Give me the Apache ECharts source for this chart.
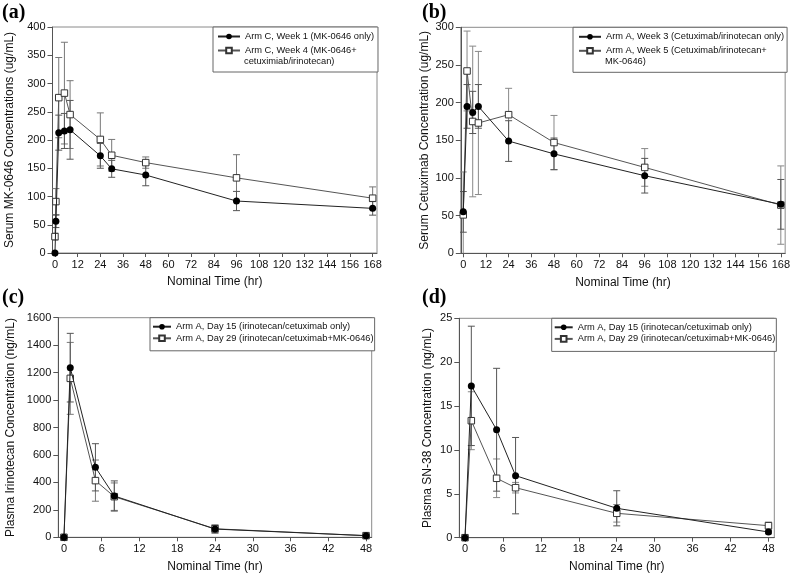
<!DOCTYPE html>
<html><head><meta charset="utf-8">
<script src="https://cdn.jsdelivr.net/npm/echarts@6/dist/echarts.min.js"></script>
<style>html,body{margin:0;padding:0;background:#fff}#c{width:793px;height:575px}</style>
</head><body><div id="c"></div>
<script>
// ---------- DATA ----------
// Panel (a): Serum MK-0646, Arm C
const timeA = [0, 0.5, 2, 5, 8, 24, 30, 48, 96, 168];
const armCWeek1 = [0, 56, 213, 216, 218, 172, 149, 138, 92, 79];
const armCWeek1SD = [0, 11, 31, 31, 52, 22, 15, 19, 17, 12];
const armCWeek4 = [29, 91, 275, 283, 245, 201, 173, 160, 133, 97];
const armCWeek4SD = [6, 23, 71, 90, 60, 47, 28, 10, 41, 20];
// Panel (b): Serum Cetuximab, Arm A
const timeB = [0, 2, 5, 8, 24, 48, 96, 168];
const armAWeek3 = [55, 195, 187, 195, 149, 132, 103, 65];
const armAWeek3SD = [27, 29, 28, 29, 27, 21, 23, 33];
const armAWeek5 = [51, 242, 175, 173, 184, 147, 114, 64];
const armAWeek5SD = [57, 53, 100, 95, 35, 36, 25, 52];
// Panel (c): Plasma Irinotecan, Arm A
const timeC = [0, 1, 5, 8, 24, 48];
const irinoDay15 = [0, 1236, 510, 301, 60, 12];
const irinoDay15SD = [0, 250, 172, 110, 30, 5];
const irinoDay29 = [0, 1158, 413, 296, 62, 12];
const irinoDay29SD = [0, 262, 150, 100, 25, 5];
// Panel (d): Plasma SN-38, Arm A
const timeD = [0, 1, 5, 8, 24, 48];
const sn38Day15 = [0, 17.3, 12.3, 7.07, 3.35, 0.65];
const sn38Day15SD = [0, 6.8, 7.0, 4.35, 2.0, 0.2];
const sn38Day29 = [0, 13.33, 6.77, 5.7, 2.78, 1.37];
const sn38Day29SD = [0, 3.3, 2.2, 0.6, 1.0, 0.4];
// Tick labels
const xTicksAB = [0, 12, 24, 36, 48, 60, 72, 84, 96, 108, 120, 132, 144, 156, 168];
const xTicksCD = [0, 6, 12, 18, 24, 30, 36, 42, 48];
// Names
const nameA1 = 'Arm C, Week 1 (MK-0646 only)';
const nameA2 = 'Arm C, Week 4 (MK-0646+';
const contA2 = 'cetuximiab/irinotecan)';
const nameB1 = 'Arm A, Week 3 (Cetuximab/irinotecan only)';
const nameB2 = 'Arm A, Week 5 (Cetuximab/irinotecan+';
const contB2 = 'MK-0646)';
const nameC1 = 'Arm A, Day 15 (irinotecan/cetuximab only)';
const nameC2 = 'Arm A, Day 29 (irinotecan/cetuximab+MK-0646)';
const yNames = ['Serum MK-0646 Concentrations (ug/mL)', 'Serum Cetuximab Concentration (ug/mL)',
  'Plasma Irinotecan Concentration (ng/mL)', 'Plasma SN-38 Concentration (ng/mL)'];
const xName = 'Nominal Time (hr)';
const panelLabels = ['(a)', '(b)', '(c)', '(d)'];

// ---------- CHART ----------
const FF = '"Liberation Sans", Arial, sans-serif';
const axisColor = '#555';
const grids = [
  {left: 52.5, top: 27, width: 324.5, height: 226},
  {left: 460.8, top: 27.3, width: 324.5, height: 226},
  {left: 58.3, top: 317.7, width: 313.4, height: 219.6},
  {left: 459.3, top: 318.3, width: 315, height: 219.4}
].map(g => Object.assign(g, {show: true, borderColor: '#8a8a8a', borderWidth: 1, backgroundColor: 'transparent'}));

function mkX(gi, min, max, ticks) {
  return {type: 'value', gridIndex: gi, min, max, name: xName, nameLocation: 'middle', nameGap: 23,
    nameTextStyle: {fontSize: 12, fontFamily: FF, color: '#111'},
    axisLine: {onZero: false, lineStyle: {color: axisColor}},
    axisTick: {show: true, length: 4, customValues: ticks, lineStyle: {color: axisColor}},
    axisLabel: {customValues: ticks, fontSize: 11, fontFamily: FF, color: '#111', margin: 6},
    splitLine: {show: false}};
}
function mkY(gi, max, interval, name, gap) {
  return {type: 'value', gridIndex: gi, min: 0, max, interval, name, nameLocation: 'middle', nameGap: gap,
    nameRotate: 90, nameTextStyle: {fontSize: 12, fontFamily: FF, color: '#111'},
    axisLine: {show: true, onZero: false, lineStyle: {color: axisColor}},
    axisTick: {show: true, length: 5, lineStyle: {color: axisColor}},
    axisLabel: {fontSize: 11, fontFamily: FF, color: '#111', margin: 7, formatter: v => String(v)},
    splitLine: {show: false}};
}
function lineS(name, gi, time, vals, filled) {
  return {type: 'line', name, xAxisIndex: gi, yAxisIndex: gi,
    data: time.map((t, i) => [t, vals[i]]),
    symbol: filled ? 'circle' : 'rect', symbolSize: filled ? 7 : 6.5,
    lineStyle: {color: filled ? '#222' : '#555', width: 1},
    itemStyle: filled ? {color: '#000', borderColor: '#000', borderWidth: 0} : {color: '#fff', borderColor: '#333', borderWidth: 1},
    z: filled ? 5 : 4, clip: false, animation: false};
}
function errS(gi, time, vals, sds, color) {
  const data = [];
  time.forEach((t, i) => { if (sds[i] > 0) data.push([t, vals[i] - sds[i], vals[i] + sds[i]]); });
  return {type: 'custom', xAxisIndex: gi, yAxisIndex: gi, data, encode: {x: 0, y: [1, 2]},
    z: 2, silent: true, clip: true, animation: false,
    renderItem: function (params, api) {
      const x = api.value(0);
      const p1 = api.coord([x, api.value(2)]);
      const p2 = api.coord([x, api.value(1)]);
      const w = 3.5;
      const st = {stroke: color, lineWidth: 1, fill: null};
      return {type: 'group', children: [
        {type: 'line', shape: {x1: p1[0], y1: p1[1], x2: p2[0], y2: p2[1]}, style: st},
        {type: 'line', shape: {x1: p1[0] - w, y1: p1[1], x2: p1[0] + w, y2: p1[1]}, style: st},
        {type: 'line', shape: {x1: p2[0] - w, y1: p2[1], x2: p2[0] + w, y2: p2[1]}, style: st}
      ]};
    }};
}
const legFont = 9.3;
function mkLegend(left, top, names, padding, itemGap, itemWidth) {
  return {left, top, orient: 'vertical', data: names, padding, itemGap, itemWidth, itemHeight: 7,
    borderColor: '#666', borderWidth: 1, backgroundColor: '#fff', selectedMode: false, z: 10,
    textStyle: {fontSize: legFont, fontFamily: FF, color: '#111', lineHeight: 11}};
}
const legends = [
  mkLegend(213, 27, [nameA1, nameA2], [4, 4, 16, 4], 3, 22),
  mkLegend(573, 27.3, [nameB1, nameB2], [4, 3, 16, 5], 3, 22),
  mkLegend(150, 317.7, [nameC1, nameC2], [3.5, 1, 7, 2], 0.6, 18),
  mkLegend(551.7, 318.3, [nameC1, nameC2], [3.5, 1, 7, 2], 0.6, 18)
];
const labelPos = [[2, 3], [422, 3], [2, 288], [422, 288]];
const graphics = panelLabels.map((t, i) => ({type: 'text', x: labelPos[i][0], y: labelPos[i][1], z: 100,
  style: {text: t, font: 'bold 20px "Liberation Serif", "Times New Roman", serif', fill: '#000'}}));
graphics.push({type: 'text', x: 213 + 4 + 22 + 5, y: 27 + 4 + 11 + 3 + 11 + 5.5, z: 100,
  style: {text: contA2, font: legFont + 'px ' + FF, fill: '#111', verticalAlign: 'middle'}});
graphics.push({type: 'text', x: 573 + 5 + 22 + 5, y: 27.3 + 4 + 11 + 3 + 11 + 5.5, z: 100,
  style: {text: contB2, font: legFont + 'px ' + FF, fill: '#111', verticalAlign: 'middle'}});

const option = {
  animation: false,
  backgroundColor: '#fff',
  grid: grids,
  xAxis: [mkX(0, -1.3, 170.3, xTicksAB), mkX(1, -1.3, 170.3, xTicksAB), mkX(2, -0.9, 48.9, xTicksCD), mkX(3, -0.9, 48.92, xTicksCD)],
  yAxis: [mkY(0, 400, 50, yNames[0], 36.5), mkY(1, 300, 50, yNames[1], 30), mkY(2, 1600, 200, yNames[2], 42), mkY(3, 25, 5, yNames[3], 26)],
  legend: legends,
  graphic: graphics,
  series: [
    errS(0, timeA, armCWeek4, armCWeek4SD, '#777'),
    errS(0, timeA, armCWeek1, armCWeek1SD, '#555'),
    lineS(nameA2, 0, timeA, armCWeek4, false),
    lineS(nameA1, 0, timeA, armCWeek1, true),
    errS(1, timeB, armAWeek5, armAWeek5SD, '#888'),
    errS(1, timeB, armAWeek3, armAWeek3SD, '#555'),
    lineS(nameB2, 1, timeB, armAWeek5, false),
    lineS(nameB1, 1, timeB, armAWeek3, true),
    errS(2, timeC, irinoDay29, irinoDay29SD, '#777'),
    errS(2, timeC, irinoDay15, irinoDay15SD, '#555'),
    lineS(nameC2, 2, timeC, irinoDay29, false),
    lineS(nameC1, 2, timeC, irinoDay15, true),
    errS(3, timeD, sn38Day29, sn38Day29SD, '#888'),
    errS(3, timeD, sn38Day15, sn38Day15SD, '#555'),
    lineS(nameC2, 3, timeD, sn38Day29, false),
    lineS(nameC1, 3, timeD, sn38Day15, true)
  ]
};
const chart = echarts.init(document.getElementById('c'), null, {renderer: 'canvas'});
chart.setOption(option);
</script>
</body></html>
